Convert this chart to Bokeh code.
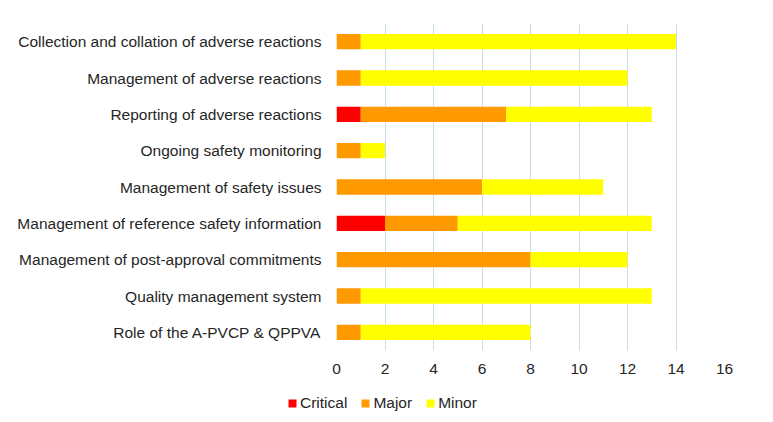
from bokeh.plotting import figure
from bokeh.layouts import column, row
from bokeh.models import ColumnDataSource, Range1d, FactorRange, Legend, LegendItem, FixedTicker
from bokeh.embed import file_html
from bokeh.resources import INLINE

categories = [
    "Collection and collation of adverse reactions",
    "Management of adverse reactions",
    "Reporting of adverse reactions",
    "Ongoing safety monitoring",
    "Management of safety issues",
    "Management of reference safety information",
    "Management of post-approval commitments",
    "Quality management system",
    "Role of the A-PVCP & QPPVA",
]
critical = [0, 0, 1, 0, 0, 2, 0, 0, 0]
major = [1, 1, 6, 1, 6, 3, 8, 1, 1]
minor = [13, 11, 6, 1, 5, 8, 4, 12, 7]
x_ticks = [0, 2, 4, 6, 8, 10, 12, 14, 16]

series = ["Critical", "Major", "Minor"]
colors = ["#FF0000", "#FF9900", "#FFFF00"]
font = "Liberation Sans"
text_color = "#262626"

source = ColumnDataSource(dict(cat=categories, Critical=critical, Major=major, Minor=minor))

p = figure(
    width=773, height=385,
    y_range=FactorRange(*reversed(categories), range_padding=0),
    x_range=Range1d(0, 16),
    output_backend="svg", toolbar_location=None,
    min_border_left=336, min_border_right=49, min_border_top=23, min_border_bottom=35,
    outline_line_color=None,
)

p.hbar_stack(series, y="cat", height=0.42, color=colors, source=source, line_width=0)

p.xaxis.ticker = FixedTicker(ticks=x_ticks)
p.xaxis.axis_line_color = None
p.xaxis.major_tick_line_color = None
p.xaxis.minor_tick_line_color = None
p.xaxis.major_label_text_font = font
p.xaxis.major_label_text_font_size = "15.5px"
p.xaxis.major_label_text_color = text_color
p.xaxis.major_label_standoff = 7

p.yaxis.axis_line_color = None
p.yaxis.major_tick_line_color = None
p.yaxis.major_label_text_font = font
p.yaxis.major_label_text_font_size = "15.5px"
p.yaxis.major_label_text_color = text_color
p.yaxis.major_label_standoff = 9

p.ygrid.grid_line_color = None
p.xgrid.grid_line_color = "#C5DFEA"
p.xgrid.grid_line_width = 1

# Legend strip underneath the chart
lf = figure(
    width=773, height=37,
    x_range=Range1d(0, 1), y_range=Range1d(0, 1),
    x_axis_type=None, y_axis_type=None,
    output_backend="svg", toolbar_location=None,
    min_border=0, outline_line_color=None,
)
lf.grid.grid_line_color = None
swatches = [
    lf.hbar(y=[5], left=[5], right=[6], height=1, color=c, line_width=0)
    for c in colors
]

legend = Legend(
    items=[LegendItem(label=s, renderers=[r]) for s, r in zip(series, swatches)],
    orientation="horizontal",
    location=(287, 10),
    border_line_color=None,
    background_fill_alpha=0,
    label_text_font=font,
    label_text_font_size="15.5px",
    label_text_color=text_color,
    glyph_width=10, glyph_height=10,
    spacing=13, padding=0, margin=0,
    label_standoff=3,
)
lf.add_layout(legend, "center")

layout = column(p, row(lf, spacing=0), spacing=0)
open("out.html", "w").write(file_html(layout, INLINE))
